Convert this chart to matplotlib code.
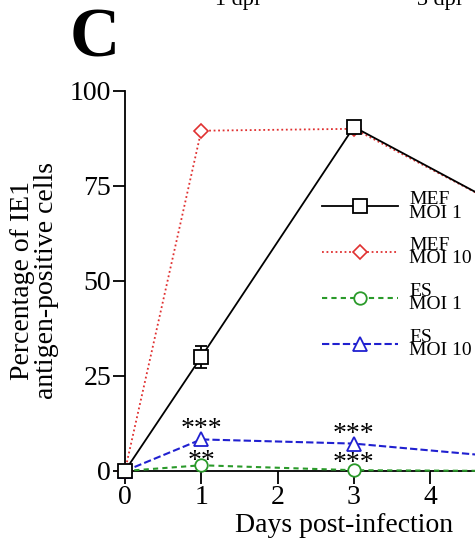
import matplotlib.pyplot as plt

days = [0, 1, 3, 5]
mef_moi1 = [0, 30, 90.5, 69]
mef_moi1_err = [0, 3, 0, 0]
mef_moi10 = [0, 89.5, 90, 69]
es_moi1 = [0, 1.5, 0.2, 0]
es_moi10 = [0, 8.3, 7.2, 3.6]
y_ticks = [0, 25, 50, 75, 100]
x_ticks = [0, 1, 2, 3, 4]

plt.rcParams["font.family"] = ["Liberation Serif", "DejaVu Serif"]

fig = plt.figure(figsize=(4.75, 5.47), dpi=100)
ax = fig.add_axes([0.263, 0.139, 0.964, 0.695])

ax.errorbar(days, mef_moi1, yerr=mef_moi1_err, fmt='none', ecolor='black',
            capsize=4, elinewidth=1.3, capthick=1.3, clip_on=False, zorder=5)
h1, = ax.plot(days, mef_moi1, color='black', linewidth=1.3,
              marker='s', markersize=10, markerfacecolor='white', markeredgewidth=1.3,
              clip_on=False, zorder=5, label='MEF\nMOI 1')
h2, = ax.plot(days, mef_moi10, color='#e03030', linestyle=(0, (1, 1.5)), linewidth=1.3,
              marker='D', markersize=7, markerfacecolor='white', markeredgewidth=1.2,
              clip_on=False, zorder=4, label='MEF\nMOI 10')
h3, = ax.plot(days, es_moi1, color='#2a9a2a', linestyle=(0, (2.5, 2)), linewidth=1.5,
              marker='o', markersize=9, markerfacecolor='white', markeredgewidth=1.3,
              clip_on=False, zorder=3, label='ES\nMOI 1')
h4, = ax.plot(days, es_moi10, color='#2020d0', linestyle=(0, (3.5, 1.5)), linewidth=1.5,
              marker='^', markersize=10, markerfacecolor='white', markeredgewidth=1.3,
              clip_on=False, zorder=3, label='ES\nMOI 10')

ax.set_xlim(0, 6)
ax.set_ylim(0, 100)
ax.set_xticks(x_ticks)
ax.set_yticks(y_ticks)
ax.spines['top'].set_visible(False)
ax.spines['right'].set_visible(False)
ax.spines['left'].set_linewidth(1.3)
ax.spines['bottom'].set_linewidth(1.3)
ax.tick_params(direction='out', length=9, width=1.3, labelsize=20, pad=1)

ax.set_xlabel('Days post-infection', fontsize=20, labelpad=2, x=0.478)
ax.set_ylabel('Percentage of IE1\nantigen-positive cells', fontsize=20, labelpad=8,
              linespacing=0.95)

# significance marks
ax.text(1, 7.6, '***', fontsize=20, ha='center', va='bottom')
ax.text(1, -0.8, '**', fontsize=20, ha='center', va='bottom')
ax.text(3, 6.4, '***', fontsize=20, ha='center', va='bottom')
ax.text(3, -1.2, '***', fontsize=20, ha='center', va='bottom')

leg = ax.legend(handles=[h1, h2, h3, h4], loc='upper left', bbox_to_anchor=(0.43, 0.737),
                frameon=False, handlelength=3.9, handletextpad=0.6, labelspacing=0.78,
                prop={'size': 14}, borderaxespad=0, borderpad=0)
for t in leg.get_texts():
    t.set_linespacing(0.75)

fig.text(0.147, 0.896, 'C', fontsize=50, fontweight='bold', ha='left', va='baseline')
fig.text(0.50, 0.991, '1 dpi', fontsize=16, ha='center', va='baseline')
fig.text(0.925, 0.991, '3 dpi', fontsize=16, ha='center', va='baseline')

fig.savefig('out.png', dpi=100)
